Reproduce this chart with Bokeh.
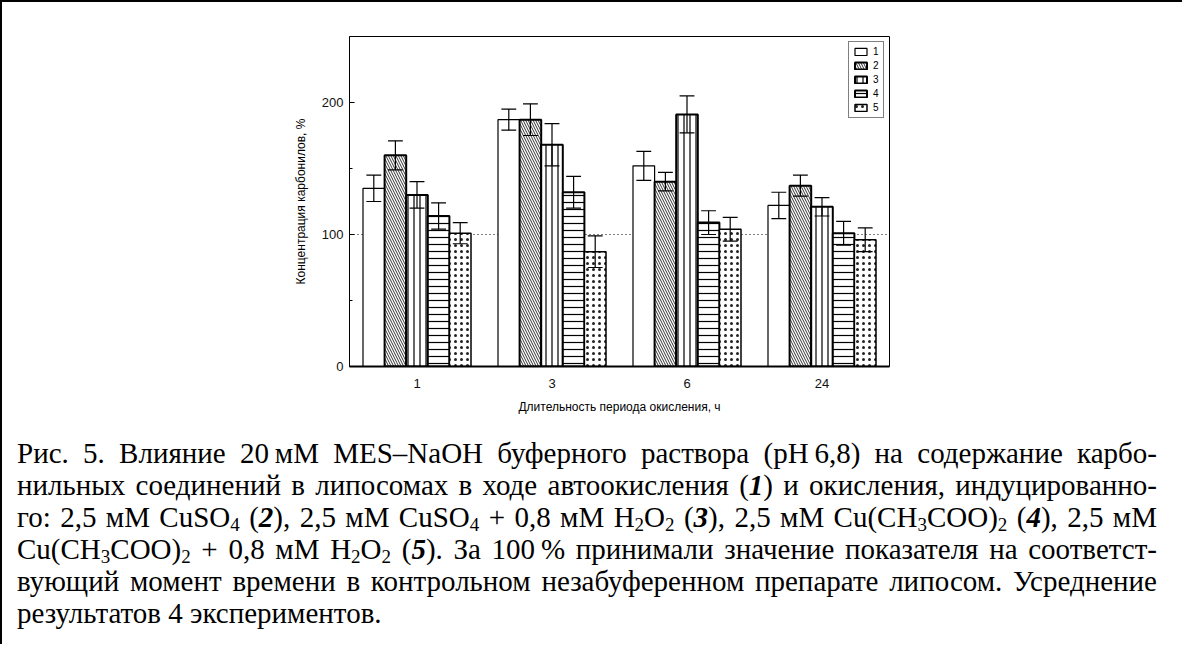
from bokeh.plotting import figure
from bokeh.models import FactorRange, FixedTicker, Span, Div, ColumnDataSource
from bokeh.transform import dodge
from bokeh.layouts import column
from bokeh.embed import file_html
from bokeh.resources import INLINE

# ---- data ----
periods = ["1", "3", "6", "24"]
series_names = ["1", "2", "3", "4", "5"]
s1 = [135, 187, 152, 122]
s1_err = [10, 8, 11, 10]
s2 = [160, 187, 140, 137]
s2_err = [11, 12, 7, 8]
s3 = [130, 168, 191, 121]
s3_err = [10, 16, 14, 7]
s4 = [114, 132, 109, 101]
s4_err = [10, 12, 9, 9]
s5 = [101, 87, 104, 96]
s5_err = [8, 12, 9, 9]
y_ticks = [0, 100, 200]
y_minor_ticks = [50, 150]
reference_level = 100
x_title = "Длительность периода окисления, ч"
y_title = "Концентрация карбонилов, %"

caption_lines = [
    "Рис. 5. Влияние 20\u2009мМ MES–NaOH буферного раствора (pH\u20096,8) на содержание карбо-",
    "нильных соединений в липосомах в ходе автоокисления (<b><i>1</i></b>) и окисления, индуцированно-",
    "го: 2,5 мМ CuSO<sub>4</sub> (<b><i>2</i></b>), 2,5 мМ CuSO<sub>4</sub> + 0,8 мМ H<sub>2</sub>O<sub>2</sub> (<b><i>3</i></b>), 2,5 мМ Cu(CH<sub>3</sub>COO)<sub>2</sub> (<b><i>4</i></b>), 2,5 мМ",
    "Cu(CH<sub>3</sub>COO)<sub>2</sub> + 0,8 мМ H<sub>2</sub>O<sub>2</sub> (<b><i>5</i></b>). За 100\u2009% принимали значение показателя на соответст-",
    "вующий момент времени в контрольном незабуференном препарате липосом. Усреднение",
    "результатов 4 экспериментов.",
]

values = [s1, s2, s3, s4, s5]
errors = [s1_err, s2_err, s3_err, s4_err, s5_err]

# ---- styles ----
offsets = [-0.32, -0.16, 0.0, 0.16, 0.32]
bar_w = 0.16
cap = 0.055
styles = [
    dict(line_width=1.2),
    dict(line_width=2, hatch_pattern="left_diagonal_line", hatch_scale=5, hatch_weight=0.8, hatch_color="black"),
    dict(line_width=2, hatch_pattern="vertical_line", hatch_scale=6, hatch_weight=1.2, hatch_color="black"),
    dict(line_width=2, hatch_pattern="horizontal_line", hatch_scale=7, hatch_weight=1.2, hatch_color="black"),
    dict(line_width=1.5, hatch_pattern="dot", hatch_scale=6, hatch_weight=0.2, hatch_color="#222222"),
]

p = figure(x_range=FactorRange(*periods), y_range=(0, 250),
           width=1170, height=427, output_backend="svg", toolbar_location=None,
           min_border_left=347, min_border_right=283, min_border_top=34, min_border_bottom=63)

p.add_layout(Span(location=reference_level, dimension="width", line_color="black",
                  line_dash="1 3", line_width=1, level="underlay"))

for name, vals, errs, off, st in zip(series_names, values, errors, offsets, styles):
    src = ColumnDataSource(dict(
        x=periods, top=vals,
        upper=[v + e for v, e in zip(vals, errs)],
        lower=[v - e for v, e in zip(vals, errs)],
    ))
    p.vbar(x=dodge("x", off, range=p.x_range), top="top", width=bar_w, source=src,
           fill_color="white", line_color="black", legend_label=name, **st)
    p.segment(x0=dodge("x", off, range=p.x_range), x1=dodge("x", off, range=p.x_range),
              y0="lower", y1="upper", source=src, line_color="black", line_width=1.2)
    for key in ("upper", "lower"):
        p.segment(x0=dodge("x", off - cap, range=p.x_range), x1=dodge("x", off + cap, range=p.x_range),
                  y0=key, y1=key, source=src, line_color="black", line_width=1.2)

p.xgrid.grid_line_color = None
p.ygrid.grid_line_color = None
p.outline_line_color = "black"
p.outline_line_width = 1
p.background_fill_color = "white"

p.yaxis.ticker = FixedTicker(ticks=y_ticks, minor_ticks=y_minor_ticks)
p.yaxis.major_tick_in = 5
p.yaxis.major_tick_out = 0
p.yaxis.minor_tick_in = 3
p.yaxis.minor_tick_out = 0
p.yaxis.axis_line_width = 1
p.xaxis.axis_line_width = 2
p.axis.axis_line_color = "black"
p.axis.major_tick_line_color = "black"
p.xaxis.major_tick_line_color = None
p.axis.major_label_text_font = "Liberation Sans"
p.axis.major_label_text_font_size = "13px"
p.axis.major_label_text_color = "#111111"
p.xaxis.major_label_standoff = 6
p.yaxis.major_label_standoff = 6

p.xaxis.axis_label = x_title
p.yaxis.axis_label = y_title
p.axis.axis_label_text_font = "Liberation Sans"
p.axis.axis_label_text_font_size = "12px"
p.axis.axis_label_text_font_style = "normal"
p.axis.axis_label_text_color = "black"
p.xaxis.axis_label_standoff = 9
p.yaxis.axis_label_standoff = 11

lg = p.legend[0]
lg.location = "top_right"
lg.border_line_color = "black"
lg.border_line_width = 1
lg.background_fill_color = "white"
lg.label_text_font = "Liberation Sans"
lg.label_text_font_size = "10px"
lg.label_text_color = "black"
lg.glyph_width = 15
lg.glyph_height = 9
lg.label_height = 10
lg.label_width = 6
lg.label_standoff = 5
lg.spacing = 3
lg.padding = 4
lg.margin = 5

rows = []
for i, line in enumerate(caption_lines):
    last = i == len(caption_lines) - 1
    align = "text-align:left" if last else "text-align:justify;text-align-last:justify"
    rows.append(f'<div style="{align};white-space:nowrap">{line}</div>')

html = ('<div style="margin-top:3px;padding-left:10px;width:1150px;'
        "font-family:'Liberation Serif','Times New Roman',serif;font-size:29px;line-height:32px;color:#000\">"
        + "".join(rows).replace("<sub>", '<sub style="font-size:19px;line-height:0;vertical-align:-4px">')
        + "</div>")
div = Div(text=html, width=1170, height=205)

layout = column(p, div, styles={"border-left": "2px solid black", "border-top": "2px solid black"})

open("out.html", "w").write(file_html(layout, INLINE))
